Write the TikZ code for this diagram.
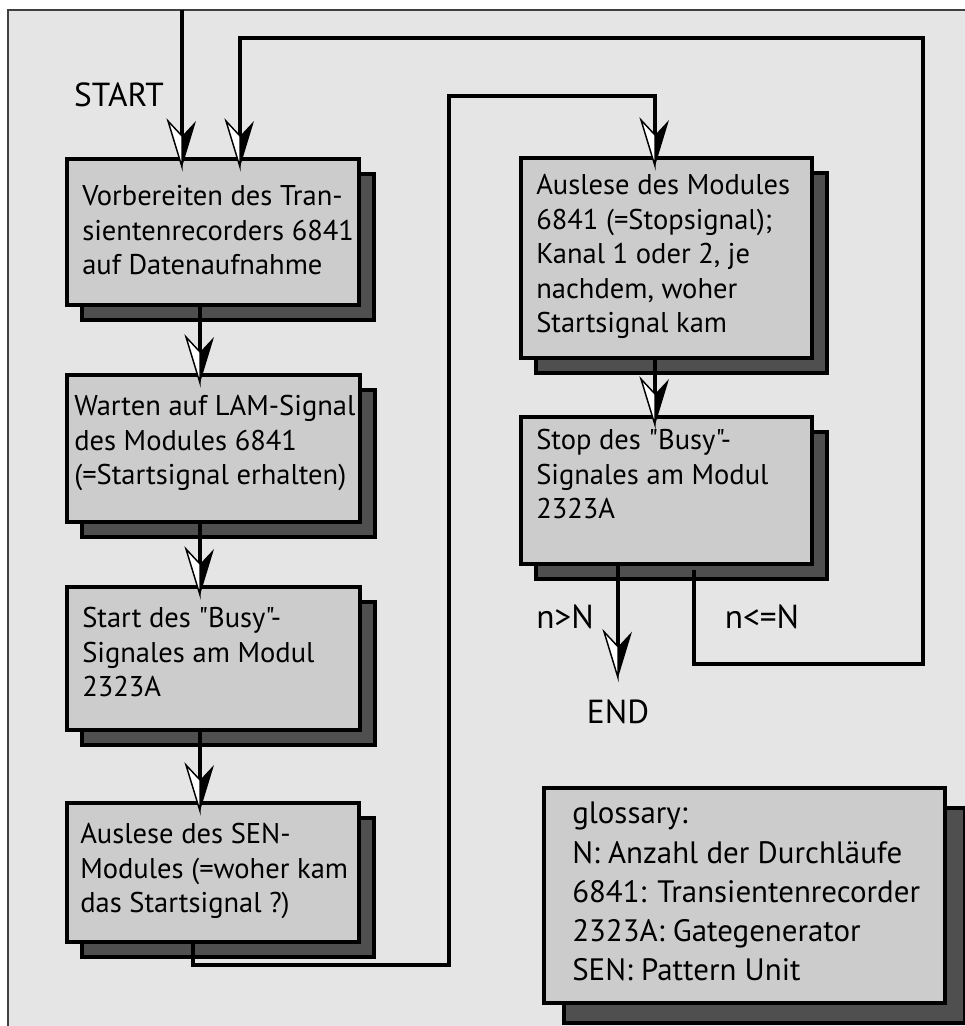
\documentclass[tikz,border=0pt]{standalone}
\usepackage{fontspec}
\newfontfamily\ptsans{PT Sans}
\usetikzlibrary{shadows}
\definecolor{bgcol}{gray}{0.90}
\definecolor{boxfill}{gray}{0.80}
\definecolor{shadowfill}{gray}{0.31}
\definecolor{framecol}{gray}{0.25}
\newcommand\boxfont{\ptsans\fontsize{21.4pt}{25.9pt}\selectfont}
\newcommand\glofont{\ptsans\fontsize{23.2pt}{29.3pt}\selectfont}
\newcommand\lblfont{\ptsans\fontsize{25pt}{28pt}\selectfont}
\tikzset{
  flowbox/.style={draw=black, line width=3pt, fill=boxfill, inner sep=0pt, anchor=north west,
    drop shadow={shadow xshift=11.25pt, shadow yshift=-11.25pt, fill=shadowfill, draw=black, line width=3pt, opacity=1}},
  glossbox/.style={draw=black, line width=3pt, fill=boxfill, inner sep=0pt, anchor=north west,
    drop shadow={shadow xshift=15pt, shadow yshift=-15pt, fill=shadowfill, draw=black, line width=3pt, opacity=1}},
  conn/.style={draw=black, line width=3pt, line join=miter},
  boxtext/.style={anchor=north west, inner sep=0pt, align=left, font=\boxfont},
  glosstext/.style={anchor=north west, inner sep=0pt, align=left, font=\glofont},
  lbl/.style={font=\lblfont, inner sep=0pt},
  flowhead/.pic={
    \filldraw[fill=white, draw=black, line width=1.1pt, line join=miter] (0,10) -- (-14,-36) -- (0,-21) -- cycle;
    \fill[black] (0,10) -- (14,-36) -- (0,-21) -- cycle;
  }
}
\begin{document}
\begin{tikzpicture}[x=0.75pt,y=-0.75pt]
\useasboundingbox (0,0) rectangle (965,1026);
\fill[white] (0,0) rectangle (965,1026);
\begin{scope}
  \clip (0,0) rectangle (965,1026);
  \filldraw[fill=bgcol, draw=framecol, line width=1.4pt] (8,10) rectangle (985,1045);
\end{scope}

% boxes
\node[flowbox, minimum width=219pt, minimum height=109.5pt] (b1) at (65,157) {};
\node[flowbox, minimum width=219.75pt, minimum height=110.25pt] (b2) at (65,373) {};
\node[flowbox, minimum width=219.75pt, minimum height=107.25pt] (b3) at (65,585) {};
\node[flowbox, minimum width=219pt, minimum height=104.25pt] (b4) at (65,801) {};
\node[flowbox, minimum width=218.25pt, minimum height=150pt] (ba) at (519,156) {};
\node[flowbox, minimum width=218.25pt, minimum height=110.25pt] (bb) at (519,415) {};
\node[glossbox, minimum width=300.75pt, minimum height=161.25pt] (gl) at (542,786) {};

% texts
\node[boxtext] (t1) at ([shift={(17,28)}]b1.north west) {Vorbereiten des Tran-\\sientenrecorders 6841\\auf Datenaufnahme};
\node[boxtext] (t2) at ([shift={(9,22)}]b2.north west) {Warten auf LAM-Signal\\des Modules 6841\\(=Startsignal erhalten)};
\node[boxtext] (t3) at ([shift={(17,22)}]b3.north west) {Start des "Busy"-\\Signales am Modul\\2323A};
\node[boxtext] (t4) at ([shift={(15,22)}]b4.north west) {Auslese des SEN-\\Modules (=woher kam\\das Startsignal ?)};
\node[boxtext] (ta) at ([shift={(17,18)}]ba.north west) {Auslese des Modules\\6841 (=Stopsignal);\\Kanal 1 oder 2, je\\nachdem, woher\\Startsignal kam};
\node[boxtext] (tb) at ([shift={(17,14)}]bb.north west) {Stop des "Busy"-\\Signales am Modul\\2323A};
\node[glosstext] (tg) at ([shift={(30,16)}]gl.north west) {glossary:\\N: Anzahl der Durchläufe\\6841: Transientenrecorder\\2323A: Gategenerator\\SEN: Pattern Unit};

% labels
\node[lbl] (start) at (119,95) {START};
\node[lbl] (ngt) at (565,617) {n>N};
\node[lbl] (nle) at (762,617) {n<=N};
\node[lbl] (endn) at (618,712) {END};

% helper coordinates
\coordinate (s0) at (182,10);
\coordinate (xa) at (200,0);
\coordinate (xl) at (193,0);
\coordinate (l1) at (193,965);
\coordinate (l2) at (449,965);
\coordinate (l3) at (449,96);
\coordinate (l4) at (655,96);
\coordinate (xb) at (655,0);
\coordinate (xe) at (618,0);
\coordinate (xf) at (694,0);
\coordinate (f1) at (694,664);
\coordinate (f2) at (923,664);
\coordinate (f3) at (923,38);
\coordinate (f4) at (240,38);

% connectors
\draw[conn] (s0) -- (s0 |- b1.north) pic{flowhead};
\draw[conn] (xa |- b1.south) -- (xa |- b2.north) pic{flowhead};
\draw[conn] (xa |- b2.south) -- (xa |- b3.north) pic{flowhead};
\draw[conn] (xa |- b3.south) -- (xa |- b4.north) pic{flowhead};
\draw[conn] (xl |- b4.south) -- (l1) -- (l2) -- (l3) -- (l4) -- (l4 |- ba.north) pic{flowhead};
\draw[conn] (xb |- ba.south) -- (xb |- bb.north) pic{flowhead};
\draw[conn] (xe |- bb.south) -- ([yshift=24pt]xe |- endn.north) pic{flowhead};
\draw[conn] ([yshift=-3pt]xf |- bb.south) -- (f1) -- (f2) -- (f3) -- (f4) -- (f4 |- b1.north) pic{flowhead};
\end{tikzpicture}
\end{document}
